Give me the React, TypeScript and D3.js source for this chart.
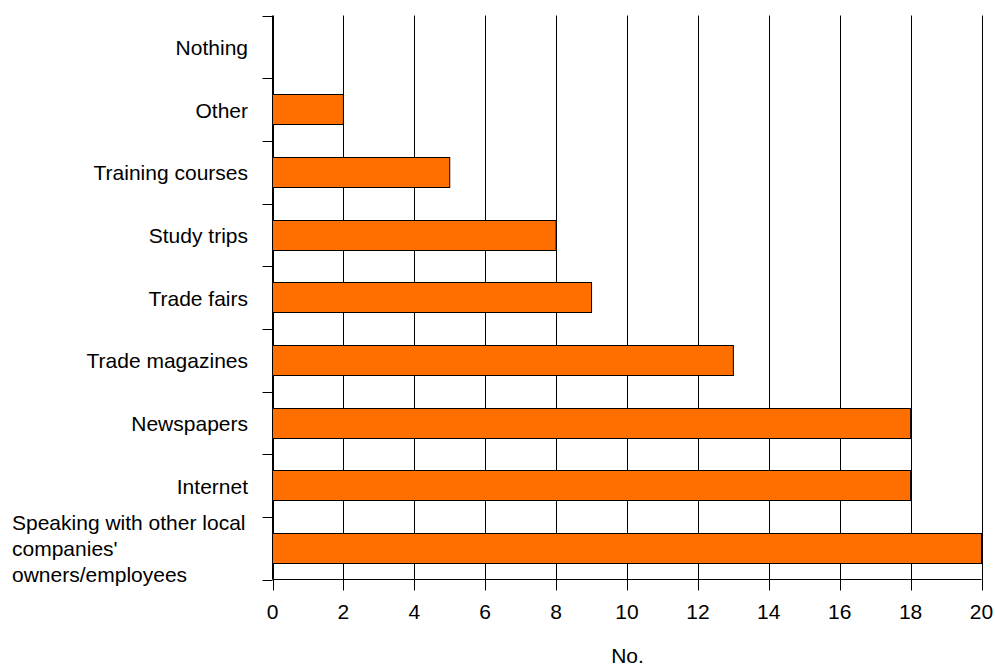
import React from "react";
import * as d3 from "d3";

const categories: string[][] = [
  ["Nothing"],
  ["Other"],
  ["Training courses"],
  ["Study trips"],
  ["Trade fairs"],
  ["Trade magazines"],
  ["Newspapers"],
  ["Internet"],
  ["Speaking with other local", "companies'", "owners/employees"],
];
const values: number[] = [0, 2, 5, 8, 9, 13, 18, 18, 20];
const xTicks: number[] = [0, 2, 4, 6, 8, 10, 12, 14, 16, 18, 20];
const xTitle = "No.";

const W = 995;
const H = 668;
const left = 272.5;
const right = 981.5;
const top = 15.5;
const bottom = 579.5;
const font = "'Liberation Sans', Arial, sans-serif";
const fs = 21;

export default function App() {
  const x = d3.scaleLinear().domain([0, 20]).range([left, right]);
  const y = d3
    .scaleBand<number>()
    .domain(d3.range(categories.length))
    .range([top, bottom])
    .paddingInner(0)
    .paddingOuter(0);
  const bw = y.bandwidth();
  const barH = bw * 0.48;

  return (
    <svg
      width={W}
      height={H}
      style={{ position: "absolute", left: 0, top: 0, background: "#fff" }}
    >
      {/* vertical grid lines with tick marks below the axis */}
      {xTicks.map((t) => (
        <line
          key={"g" + t}
          x1={Math.round(x(t)) + 0.5}
          x2={Math.round(x(t)) + 0.5}
          y1={top}
          y2={bottom + 11}
          stroke="#000"
          strokeWidth={1}
        />
      ))}
      {/* category tick marks on the left */}
      {d3.range(categories.length + 1).map((i) => {
        const yy = Math.round(top + i * bw) + 0.5;
        return (
          <line key={"yt" + i} x1={left - 10} x2={left} y1={yy} y2={yy} stroke="#000" />
        );
      })}
      {/* bars */}
      {values.map((v, i) => (
        <rect
          key={"b" + i}
          x={x(0)}
          y={Math.round((y(i) as number) + bw / 2 - barH / 2) + 0.5}
          width={x(v) - x(0)}
          height={Math.round(barH)}
          fill="#FF6F00"
          stroke="#000"
          strokeWidth={1}
        />
      ))}
      {/* axis lines */}
      <line x1={left} x2={right} y1={bottom} y2={bottom} stroke="#000" />
      <line x1={left} x2={left} y1={top} y2={bottom} stroke="#000" />
      {/* x tick labels */}
      {xTicks.map((t) => (
        <text
          key={"xl" + t}
          x={x(t)}
          y={619}
          textAnchor="middle"
          fontFamily={font}
          fontSize={fs}
          fill="#000"
        >
          {t}
        </text>
      ))}
      <text
        x={(left + right) / 2 + 0.5}
        y={663}
        textAnchor="middle"
        fontFamily={font}
        fontSize={fs}
        fill="#000"
      >
        {xTitle}
      </text>
      {/* category labels */}
      {categories.map((lines, i) => {
        const cy = (y(i) as number) + bw / 2;
        if (lines.length === 1) {
          return (
            <text
              key={"c" + i}
              x={248}
              y={cy + 8}
              textAnchor="end"
              fontFamily={font}
              fontSize={fs}
              fill="#000"
            >
              {lines[0]}
            </text>
          );
        }
        const lh = 26;
        const y0 = cy - ((lines.length - 1) * lh) / 2 + 8;
        return (
          <text key={"c" + i} fontFamily={font} fontSize={fs} fill="#000">
            {lines.map((l, j) => (
              <tspan key={j} x={12} y={y0 + j * lh}>
                {l}
              </tspan>
            ))}
          </text>
        );
      })}
    </svg>
  );
}
